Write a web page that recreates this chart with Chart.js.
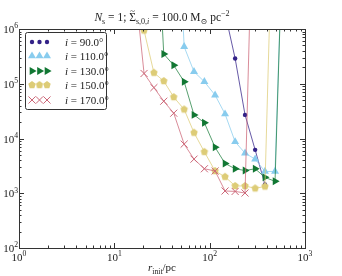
<!DOCTYPE html>
<html>
<head>
<meta charset="utf-8">
<script src="https://cdn.jsdelivr.net/npm/chart.js@4.4.0/dist/chart.umd.min.js"></script>
<style>
  html, body { margin: 0; padding: 0; background: #fff; }
  #chart { display: block; }
</style>
</head>
<body>
<canvas id="chart" width="342" height="276"></canvas>
<script>
// r_init grid (pc), shared by all series; null = no point
const rInit = [16, 20.5, 26, 33, 42, 54, 68.5, 88, 114, 145, 185, 235, 300, 380, 485, 610];
const sigma90  = [null, null, null, null, null, null, null, null, null, 1.95e6, 2.9e5, 2.7e4, 6.2e3, 1.45e3, null, null];
const sigma110 = [null, null, null, null, 5e9, 4.75e5, 1.66e5, 1.09e5, 6.2e4, 2.8e4, 8.7e3, 5.4e3, 4.2e3, 2.5e3, 2.5e3, 6e8];
const sigma130 = [null, null, 1e9, 3.5e5, 2.17e5, 1.09e5, 2.7e4, 1.94e4, 6.9e3, 3.5e3, 2.8e3, 2.6e3, 2.8e3, 1.95e3, 1.65e3, 6e8];
const sigma150 = [2.7e6, 9.4e5, 1.59e5, 1.12e5, 5.7e4, 3.4e4, 1.28e4, 5.7e3, 2.55e3, 2.0e3, 1.36e3, 1.36e3, 1.23e3, 1.33e3, 6e9, null];
const sigma170 = [1e7, 1.54e5, 8.5e4, 4.8e4, 2.9e4, 7.9e3, 4.2e3, 2.8e3, 2.55e3, 1.1e3, 1.08e3, 1.01e3, 9e9, null, null, null];

const xTicks = [1, 10, 100, 1000];
const yTicks = [1e2, 1e3, 1e4, 1e5, 1e6];
const labels = ["90.0°", "110.0°", "130.0°", "150.0°", "170.0°"];

const SERIF = '"Liberation Serif", "DejaVu Serif", serif';

// pentagon marker (no built-in pentagon in Chart.js)
function pentagon(color, r) {
  const c = document.createElement("canvas");
  const s = Math.ceil(r * 2 + 2);
  c.width = s; c.height = s;
  const g = c.getContext("2d");
  g.fillStyle = color;
  g.beginPath();
  for (let k = 0; k < 5; k++) {
    const a = -Math.PI / 2 + k * 2 * Math.PI / 5;
    const px = s / 2 + r * Math.cos(a), py = s / 2 + r * Math.sin(a);
    k ? g.lineTo(px, py) : g.moveTo(px, py);
  }
  g.closePath();
  g.fill();
  return c;
}

function pts(ys) {
  const out = [];
  ys.forEach((v, i) => { if (v !== null) out.push({ x: rInit[i], y: v }); });
  return out;
}

const styles = [
  { color: "#332288", line: "rgba(51,34,136,0.75)", pointStyle: "circle", radius: 2.2, rotation: 0 },
  { color: "#88CCEE", line: "rgba(136,204,238,0.75)", pointStyle: "triangle", radius: 4.6, rotation: 0 },
  { color: "#117733", line: "rgba(17,119,51,0.7)", pointStyle: "triangle", radius: 4.6, rotation: 90 },
  { color: "#DDCC77", line: "rgba(221,204,119,0.75)", pointStyle: pentagon("#DDCC77", 3.9), radius: 4, rotation: 0 },
  { color: "#CC6677", line: "rgba(204,102,119,0.75)", pointStyle: "crossRot", radius: 5, rotation: 0 },
];
const series = [sigma90, sigma110, sigma130, sigma150, sigma170];

const datasets = series.map((s, i) => ({
  label: labels[i],
  data: pts(s),
  borderColor: styles[i].line,
  borderWidth: 1,
  pointStyle: styles[i].pointStyle,
  pointRadius: styles[i].radius,
  pointRotation: styles[i].rotation,
  pointBackgroundColor: styles[i].color,
  pointBorderColor: styles[i].color,
  pointBorderWidth: styles[i].pointStyle === "crossRot" ? 1 : 0,
  order: 5 - i,
}));

// draw a run of text pieces (italic / sub / sup / tilde accent)
function rich(ctx, parts, x, y, size, align) {
  let w = 0;
  const items = parts.map(p => {
    const s = (p.sub || p.sup) ? size * 0.7 : size;
    const font = (p.it ? "italic " : "") + s + "px " + SERIF;
    ctx.font = font;
    const pw = ctx.measureText(p.t).width;
    w += pw;
    return { t: p.t, font, w: pw, tilde: p.tilde, size: s,
      dy: p.sub ? size * 0.25 : p.sup ? -size * 0.42 : 0 };
  });
  let cx = align === "center" ? x - w / 2 : align === "right" ? x - w : x;
  ctx.textAlign = "left";
  ctx.textBaseline = "alphabetic";
  items.forEach(it => {
    ctx.font = it.font;
    ctx.fillText(it.t, cx, y + it.dy);
    if (it.tilde) {
      ctx.font = (it.size * 0.8) + "px " + SERIF;
      ctx.textAlign = "center";
      ctx.fillText("~", cx + it.w / 2, y - it.size * 0.62);
      ctx.textAlign = "left";
    }
    cx += it.w;
  });
}

const decor = {
  id: "decor",
  afterDraw(chart) {
    const ctx = chart.ctx;
    const a = chart.chartArea;
    const xs = chart.scales.x, ys = chart.scales.y;
    ctx.save();
    ctx.strokeStyle = "#333";
    ctx.lineWidth = 1;
    // inward ticks, all four sides
    for (let d = 0; d < 3; d++) {
      for (let m = 1; m <= 9; m++) {
        const v = Math.pow(10, d) * m;
        const px = Math.round(xs.getPixelForValue(v)) + 0.5;
        const len = m === 1 ? 5 : 2.5;
        ctx.beginPath();
        ctx.moveTo(px, a.bottom); ctx.lineTo(px, a.bottom - len);
        ctx.moveTo(px, a.top); ctx.lineTo(px, a.top + len);
        ctx.stroke();
      }
    }
    for (let d = 2; d < 6; d++) {
      for (let m = 1; m <= 9; m++) {
        const v = Math.pow(10, d) * m;
        const py = Math.round(ys.getPixelForValue(v)) + 0.5;
        const len = m === 1 ? 5 : 2.5;
        ctx.beginPath();
        ctx.moveTo(a.left, py); ctx.lineTo(a.left + len, py);
        ctx.moveTo(a.right, py); ctx.lineTo(a.right - len, py);
        ctx.stroke();
      }
    }
    // frame
    ctx.strokeRect(Math.round(a.left) + 0.5, Math.round(a.top) + 0.5,
      Math.round(a.right - a.left), Math.round(a.bottom - a.top));

    // tick labels
    ctx.fillStyle = "#222";
    xTicks.forEach(v => {
      const e = Math.round(Math.log10(v));
      rich(ctx, [{ t: "10" }, { t: String(e), sup: 1 }], xs.getPixelForValue(v), a.bottom + 13, 11, "center");
    });
    yTicks.forEach(v => {
      const e = Math.round(Math.log10(v));
      rich(ctx, [{ t: "10" }, { t: String(e), sup: 1 }], a.left - 1, ys.getPixelForValue(v) + 4, 11, "right");
    });

    // title
    rich(ctx, [
      { t: "N", it: 1 }, { t: "s", sub: 1 }, { t: " = 1; " },
      { t: "Σ", tilde: 1 }, { t: "s,0,", sub: 1 }, { t: "i", sub: 1, it: 1 },
      { t: " = 100.0 M" }, { t: "⊙", sub: 1 }, { t: " pc" }, { t: "−2", sup: 1 },
    ], (a.left + a.right) / 2, 21, 11.5, "center");

    // x axis label
    rich(ctx, [{ t: "r", it: 1 }, { t: "init", sub: 1 }, { t: "/pc" }], (a.left + a.right) / 2, 271, 11, "center");

    // legend
    const lx = 25.5, ly = 32.5, lw = 81, lh = 77;
    ctx.fillStyle = "#fff";
    ctx.strokeStyle = "#333";
    ctx.beginPath();
    ctx.roundRect(lx, ly, lw, lh, 2);
    ctx.fill();
    ctx.stroke();
    const rows = [42, 56, 71, 85, 100];
    rows.forEach((ry, i) => {
      const st = styles[i];
      [32, 39.5, 47].forEach(mx => {
        ctx.fillStyle = st.color;
        ctx.strokeStyle = st.color;
        ctx.lineWidth = 1;
        Chart.helpers.drawPoint(ctx, {
          pointStyle: st.pointStyle, radius: st.radius, rotation: st.rotation,
          borderWidth: st.pointStyle === "crossRot" ? 1 : 0,
        }, mx, ry);
      });
      ctx.fillStyle = "#222";
      rich(ctx, [{ t: "i", it: 1 }, { t: " = " + labels[i] }], 65, ry + 4, 11, "left");
    });
    ctx.restore();
  },
};

new Chart(document.getElementById("chart").getContext("2d"), {
  type: "line",
  data: { datasets },
  options: {
    responsive: false,
    animation: false,
    layout: { padding: { left: 19, right: 37, top: 29, bottom: 28 } },
    plugins: { legend: { display: false }, tooltip: { enabled: false }, title: { display: false } },
    scales: {
      x: { type: "logarithmic", min: 1, max: 1000, display: false },
      y: { type: "logarithmic", min: 100, max: 1e6, display: false },
    },
  },
  plugins: [decor],
});
</script>
</body>
</html>
